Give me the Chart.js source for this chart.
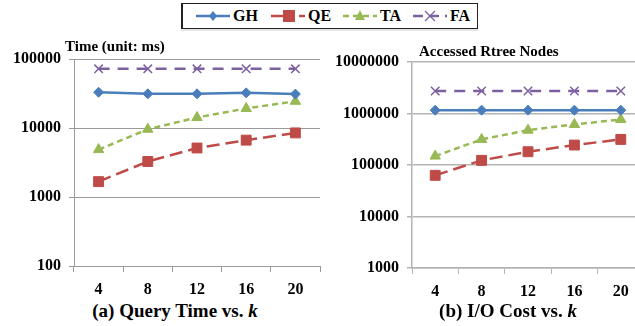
<!DOCTYPE html>
<html>
<head>
<meta charset="utf-8">
<script src="https://cdn.jsdelivr.net/npm/chart.js@4.4.1/dist/chart.umd.min.js"></script>
<style>
html, body { margin: 0; padding: 0; width: 635px; height: 326px; overflow: hidden; background: #fff; }
body { position: relative; font-family: "Liberation Serif", "Times New Roman", serif; font-weight: bold; color: #000; }
.box { position: absolute; top: 0; height: 300px; }
#legend { position: absolute; left: 181px; top: 3px; width: 294px; height: 24px; border: 1px solid #222; border-left-width: 2px;
  box-shadow: 0 2px 0 #e6e6e6; display: flex; align-items: center; font-size: 16px; }
#legend .item { position: absolute; top: 3px; display: flex; align-items: center; height: 18px; }
.caption { position: absolute; top: 300px; font-size: 19px; white-space: nowrap; transform: translateX(-50%); }
</style>
</head>
<body>
<div id="legend"></div>
<div class="box" style="left:0;width:330px"><canvas id="time_chart"></canvas></div>
<div class="box" style="left:325px;width:330px"><canvas id="io_chart"></canvas></div>
<div class="caption" style="left:175px">(a) Query Time vs. <i>k</i></div>
<div class="caption" style="left:508px">(b) I/O Cost vs. <i>k</i></div>
<script>
const kLabels = ['4', '8', '12', '16', '20'];
const seriesNames = ['GH', 'QE', 'TA', 'FA'];

// Time (unit: ms)
const timeGH = [33000, 31300, 31300, 32300, 31000];
const timeQE = [1670, 3270, 5130, 6670, 8490];
const timeTA = [4860, 9600, 14200, 19200, 24400];
const timeFA = [72000, 72000, 72000, 72000, 72000];
const timeTicks = [100, 1000, 10000, 100000];

// Accessed Rtree Nodes
const nodesGH = [1160000, 1160000, 1160000, 1160000, 1160000];
const nodesQE = [63000, 123000, 181000, 244000, 314000];
const nodesTA = [149000, 314000, 475000, 613000, 766000];
const nodesFA = [2740000, 2740000, 2740000, 2740000, 2740000];
const nodeTicks = [1000, 10000, 100000, 1000000, 10000000];

const FONT = '"Liberation Serif", "Times New Roman", serif';

const styles = {
    GH: { color: '#4a7ebb', dash: [], point: 'rectRot', radius: 5, width: 2.5 },
    QE: { color: '#be4b48', dash: [13, 6], point: 'rect', radius: 7, width: 2.5 },
    TA: { color: '#98b954', dash: [6, 4], point: 'triangle', radius: 6, width: 2.5 },
    FA: { color: '#7d60a0', dash: [11, 8], point: 'crossRot', radius: 6, width: 2.5 }
};

function makeDatasets(values) {
    return seriesNames.map((name, i) => {
        const s = styles[name];
        return {
            label: name,
            data: values[i],
            borderColor: s.color,
            backgroundColor: s.color,
            borderWidth: s.width,
            borderDash: s.dash,
            pointStyle: s.point,
            pointRadius: s.radius,
            pointBorderWidth: name === 'FA' ? 1.5 : 1,
            pointBorderColor: s.color,
            pointBackgroundColor: s.color,
            tension: 0
        };
    });
}

// small title above the y axis
const cornerTitle = {
    id: 'cornerTitle',
    afterDraw(chart, args, opts) {
        const ctx = chart.ctx;
        ctx.save();
        ctx.font = 'bold 15px ' + FONT;
        ctx.fillStyle = '#000';
        ctx.textBaseline = 'middle';
        ctx.textAlign = 'left';
        ctx.fillText(opts.text, opts.x, opts.y);
        ctx.restore();
    }
};

function makeChart(id, values, ticks, cfg) {
    const ctx = document.getElementById(id).getContext('2d');
    return new Chart(ctx, {
        type: 'line',
        data: { labels: kLabels, datasets: makeDatasets(values) },
        plugins: [cornerTitle],
        options: {
            responsive: true,
            maintainAspectRatio: false,
            animation: false,
            layout: { padding: { top: cfg.top, right: cfg.right, left: 0, bottom: 0 } },
            scales: {
                x: {
                    offset: true,
                    grid: { offset: true, drawOnChartArea: false, tickLength: 6, color: cfg.grid, lineWidth: 1 },
                    border: { color: cfg.grid, width: cfg.gridWidth },
                    ticks: { padding: 8, color: '#000', font: { family: FONT, size: 16, weight: 'bold' } },
                    afterFit: s => { s.height = cfg.xh; }
                },
                y: {
                    type: 'logarithmic',
                    min: ticks[0],
                    max: ticks[ticks.length - 1],
                    afterBuildTicks: s => { s.ticks = ticks.map(v => ({ value: v })); },
                    grid: { color: cfg.grid, lineWidth: cfg.gridWidth, tickLength: 5 },
                    border: { color: cfg.grid, width: cfg.gridWidth },
                    ticks: { padding: 8, color: '#000', font: { family: FONT, size: 16, weight: 'bold' },
                             callback: v => String(v) },
                    afterFit: s => { s.width = cfg.yw; }
                }
            },
            plugins: {
                legend: { display: false },
                tooltip: { enabled: false },
                cornerTitle: { text: cfg.title, x: cfg.tx, y: cfg.ty }
            }
        }
    });
}

// shared legend
function buildLegend() {
    const legend = document.getElementById('legend');
    const pos = [13, 88, 160, 230];
    seriesNames.forEach((name, i) => {
        const s = styles[name];
        const item = document.createElement('div');
        item.className = 'item';
        item.style.left = pos[i] + 'px';
        let marker = '';
        if (s.point === 'rectRot') marker = '<polygon points="17,4 21,9 17,14 13,9" fill="' + s.color + '"/>';
        if (s.point === 'rect') marker = '<rect x="12" y="3" width="12" height="12" fill="' + s.color + '"/>';
        if (s.point === 'triangle') marker = '<polygon points="17,3 22,13 12,13" fill="' + s.color + '"/>';
        if (s.point === 'crossRot') marker = '<path d="M12,4 L22,14 M22,4 L12,14" stroke="' + s.color + '" stroke-width="1.3"/>';
        const dash = s.dash.length ? ' stroke-dasharray="' + (name === 'TA' ? '6,4' : name === 'QE' ? '22,6' : '10,6') + '"' : '';
        item.innerHTML = '<svg width="36" height="18"><line x1="0" y1="9" x2="34" y2="9" stroke="' + s.color +
            '" stroke-width="2.5"' + dash + '/>' + marker + '</svg><span style="margin-left:1px">' + name + '</span>';
        legend.appendChild(item);
    });
}

buildLegend();

makeChart('time_chart', [timeGH, timeQE, timeTA, timeFA], timeTicks,
    { top: 59, right: 10, yw: 74, xh: 34, grid: '#9a9a9a', gridWidth: 1,
      title: 'Time (unit: ms)', tx: 65, ty: 47 });

makeChart('io_chart', [nodesGH, nodesQE, nodesTA, nodesFA], nodeTicks,
    { top: 62, right: 11, yw: 87, xh: 32, grid: '#b4b4b4', gridWidth: 1.5,
      title: 'Accessed Rtree Nodes', tx: 94, ty: 52 });
</script>
</body>
</html>
